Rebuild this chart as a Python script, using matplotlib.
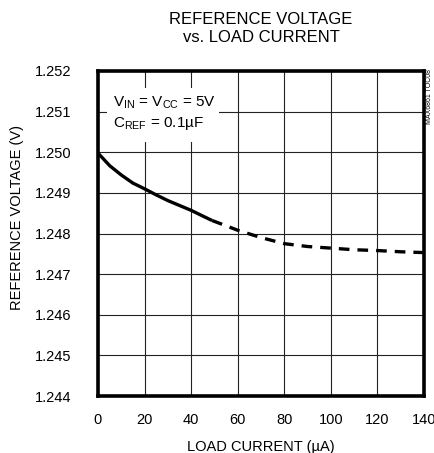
import matplotlib
matplotlib.use("Agg")
import matplotlib.pyplot as plt
from matplotlib.patches import Rectangle

# Data
solid_x = [0, 5, 10, 15, 20, 25, 30, 35, 40, 45, 49]
solid_y = [1.24998, 1.24967, 1.24944, 1.24924, 1.24910, 1.24895, 1.24881, 1.24869, 1.24857, 1.24843, 1.24832]
dashed_x = [49, 55, 60, 70, 80, 90, 100, 110, 120, 130, 140]
dashed_y = [1.24832, 1.24819, 1.24808, 1.24790, 1.24775, 1.24768, 1.24764, 1.24760, 1.24758, 1.24755, 1.24753]
x_ticks = [0, 20, 40, 60, 80, 100, 120, 140]
y_ticks = [1.244, 1.245, 1.246, 1.247, 1.248, 1.249, 1.250, 1.251, 1.252]
y_tick_labels = ["1.244", "1.245", "1.246", "1.247", "1.248", "1.249", "1.250", "1.251", "1.252"]

plt.rcParams['font.family'] = ['Liberation Sans', 'DejaVu Sans']
plt.rcParams['mathtext.fontset'] = 'custom'
plt.rcParams['mathtext.rm'] = 'Liberation Sans'

fig = plt.figure(figsize=(4.35, 4.53), dpi=100)
ax = fig.add_axes([98/435, 1-396/453, 326/435, 325/453])

ax.set_xlim(0, 140)
ax.set_ylim(1.244, 1.252)
ax.set_xticks(x_ticks)
ax.set_yticks(y_ticks)
ax.set_yticklabels(y_tick_labels)
ax.tick_params(length=0, labelsize=10.5, colors='black')
ax.tick_params(axis='y', pad=19)
ax.tick_params(axis='x', pad=12)
ax.grid(True, color='#222222', linewidth=0.8)
ax.set_axisbelow(True)
for s in ax.spines.values():
    s.set_linewidth(2.6)
    s.set_color('black')
    s.set_zorder(5)

ax.plot(solid_x, solid_y, color='black', linewidth=2.4, solid_capstyle='butt',
        solid_joinstyle='round', zorder=4)
ax.plot(dashed_x, dashed_y, color='black', linewidth=2.4, dashes=(3.2, 2.4), zorder=4)

ax.add_patch(Rectangle((4, 1.25026), 48, 0.00132, facecolor='white', edgecolor='none', zorder=2))
ax.text(6.4, 1.25121, r'$\mathregular{V_{IN}}$ = $\mathregular{V_{CC}}$ = 5V', fontsize=11, va='center', ha='left', zorder=3)
ax.text(6.4, 1.25072, r'$\mathregular{C_{REF}}$ = 0.1µF', fontsize=11, va='center', ha='left', zorder=3)

fig.text(261/435, 1-19/453, 'REFERENCE VOLTAGE', ha='center', va='center', fontsize=12)
fig.text(261/435, 1-38/453, 'vs. LOAD CURRENT', ha='center', va='center', fontsize=12)
fig.text(261/435, 1-447/453, 'LOAD CURRENT (µA)', ha='center', va='center', fontsize=10.5)
fig.text(17/435, 1-218/453, 'REFERENCE VOLTAGE (V)', ha='center', va='center', fontsize=10.5, rotation=90)
fig.text(430/435, 1-96/453, 'MAX6861 TOC08', ha='center', va='center', fontsize=5, rotation=90)

fig.savefig('out.png', dpi=100)
